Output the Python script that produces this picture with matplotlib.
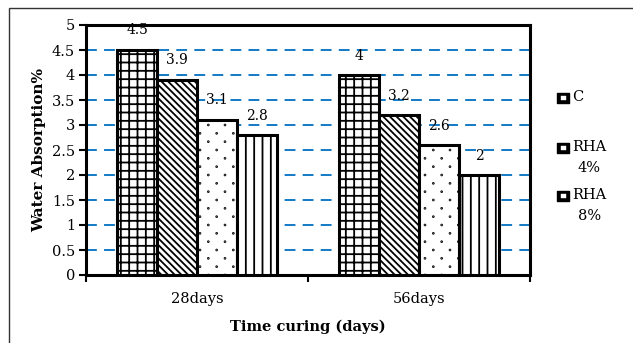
import numpy as np
import matplotlib
matplotlib.use("Agg")
import matplotlib.pyplot as plt
import matplotlib.hatch as mhatch
from matplotlib.path import Path
from matplotlib.patches import Rectangle

# water absorption results per curing age
ages = ["28days", "56days"]
series = ["C", "RHA\n4%", "RHA\n8%", "RHA\n12%"]
c_vals = [4.5, 4.0]
rha4_vals = [3.9, 3.2]
rha8_vals = [3.1, 2.6]
rha12_vals = [2.8, 2.0]
yticks = [0, 0.5, 1, 1.5, 2, 2.5, 3, 3.5, 4, 4.5, 5]


# sparse staggered dot fill: dots every 1/n across, rows every 1/(2n)
class SparseDots(mhatch.HatchPatternBase):
    radius = 0.004

    def __init__(self, hatch, density):
        self.n = hatch.count('.') * density
        n = self.n
        self.ndots = (n + 1) * (n + 1) + n * n
        circ = Path.unit_circle()
        self.cv = circ.vertices
        self.cc = circ.codes
        self.num_vertices = self.ndots * len(self.cv) if n else 0

    def set_vertices_and_codes(self, vertices, codes):
        n = self.n
        pts = []
        for row in range(2*n + 1):
            y = row / (2*n)
            if row % 2 == 0:
                xs = np.linspace(0, 1, n + 1)
            else:
                xs = np.linspace(0.5/n, 1 - 0.5/n, n)
            pts += [(xx, y) for xx in xs]
        k = len(self.cv)
        for i, (px, py) in enumerate(pts[:self.ndots]):
            vertices[i*k:(i+1)*k] = self.cv * self.radius + [px, py]
            codes[i*k:(i+1)*k] = self.cc


mhatch._hatch_types = [SparseDots if t is mhatch.SmallFilledCircles else t
                       for t in mhatch._hatch_types]

plt.rcParams['font.family'] = ['DejaVu Serif']
plt.rcParams['hatch.linewidth'] = 1.3

W, H = 633, 343
fig = plt.figure(figsize=(W/100, H/100), dpi=100)
ax = fig.add_axes([86/W, 1-275/H, 444/W, 250/H])


def fx(px):
    return px / W


def fy(py):
    return 1 - py / H


# thin frame around the whole figure
fig.patches.append(Rectangle((fx(9), -0.1), 1.2, fy(8) + 0.1, transform=fig.transFigure,
                             fill=False, edgecolor='#333333', linewidth=1.0))

x = np.arange(len(ages))
w = 0.18
hatches = ['++', '\\' * 5, '.', '||']
all_vals = [c_vals, rha4_vals, rha8_vals, rha12_vals]
for i, vals in enumerate(all_vals):
    bars = ax.bar(x + (i - 1.5)*w, vals, w, facecolor='white', edgecolor='black',
                  hatch=hatches[i], linewidth=2.2, zorder=3)
    for b, v in zip(bars, vals):
        ax.text(b.get_x() + b.get_width()/2, v + 0.25, f"{v:g}", ha='center', va='bottom',
                fontsize=10, zorder=4)

ax.set_xlim(-0.5, 1.5)
ax.set_ylim(0, 5)
ax.set_yticks(yticks)
ax.set_yticklabels([f"{t:g}" for t in yticks], fontsize=10.5)
ax.set_xticks(x)
ax.set_xticklabels(ages, fontsize=10.5)
ax.set_xticks([-0.5, 0.5, 1.5], minor=True)
ax.tick_params(axis='x', which='major', length=0, pad=12)
ax.tick_params(axis='x', which='minor', length=5, width=1.5)
ax.tick_params(axis='y', length=5, width=1.5, pad=3)

ax.yaxis.grid(True, color='#0070C0', linestyle=(0, (6, 4)), linewidth=1.3, zorder=0)
ax.set_axisbelow(True)
for s in ax.spines.values():
    s.set_linewidth(2.2)

ax.set_ylabel("Water Absorption%", fontsize=11, fontweight='bold', labelpad=4)
ax.set_xlabel("Time curing (days)", fontsize=10.5, fontweight='bold', labelpad=10)

# legend on the right: black keys, label lines centred under each other
key_y = [98, 148, 196]
for i, ky in enumerate(key_y):
    fig.patches.append(Rectangle((fx(557), fy(ky + 5)), 12/W, 10/H, transform=fig.transFigure,
                                 facecolor='black', edgecolor='black', linewidth=1.0,
                                 joinstyle='round'))
    fig.patches.append(Rectangle((fx(561), fy(ky + 2)), 5/W, 4/H, transform=fig.transFigure,
                                 facecolor='white', edgecolor='white', linewidth=0.3))
    fig.text(fx(572), fy(ky - 8), series[i], ha='left', va='top', fontsize=10.5,
             multialignment='center', linespacing=1.6)

fig.savefig("out.png", dpi=100)
